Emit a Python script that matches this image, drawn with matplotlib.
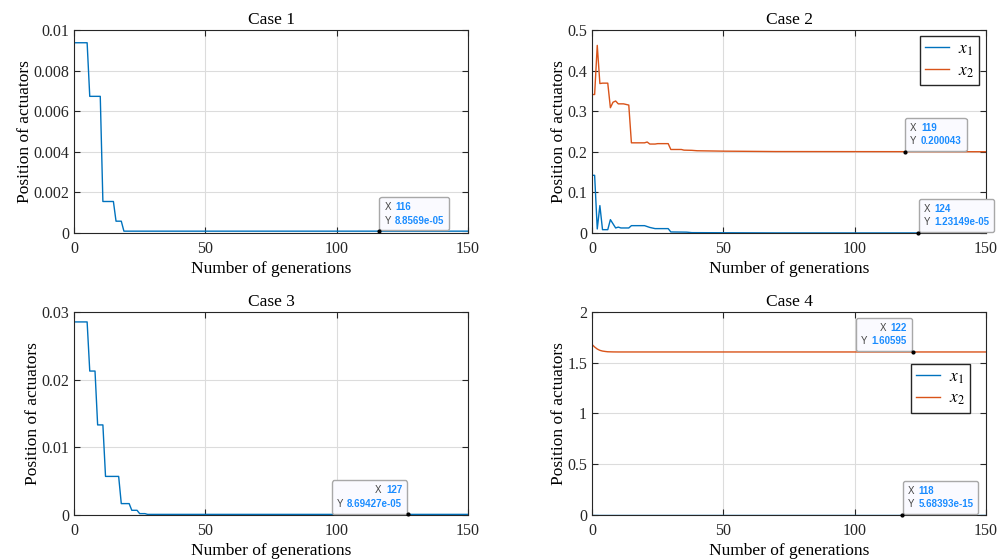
import matplotlib
matplotlib.use("Agg")
import matplotlib.pyplot as plt
from matplotlib.offsetbox import TextArea, HPacker, VPacker, AnnotationBbox

plt.rcParams['font.family'] = ['Liberation Serif', 'DejaVu Serif']
plt.rcParams['mathtext.fontset'] = 'stix'

BLUE = '#0072BD'
ORANGE = '#D95319'

# knots of the best-actuator-position history (generation, value)
case1_gen = [0, 5, 6, 10, 11, 15, 16, 18, 19, 150]
case1_x = [0.00937, 0.00937, 0.00673, 0.00673, 0.00155, 0.00155, 0.00058, 0.00058,
           8.8569e-05, 8.8569e-05]

case2_gen1 = [0, 1, 2, 3, 4, 6, 7, 9, 10, 11, 14, 15, 20, 22, 24, 29, 30, 36, 38, 50, 70, 150]
case2_x1 = [0.142, 0.142, 0.0099, 0.0674, 0.0081, 0.0081, 0.0328, 0.0123, 0.0144, 0.0123,
            0.0123, 0.018, 0.018, 0.0136, 0.0107, 0.0107, 0.0025, 0.002, 0.0008, 0.0005,
            0.0001, 1.23149e-05]
case2_gen2 = [0, 1, 2, 3, 4, 6, 7, 8, 9, 10, 12, 14, 15, 20, 21, 22, 24, 25, 29, 30, 34,
              35, 38, 40, 50, 70, 150]
case2_x2 = [0.341, 0.341, 0.462, 0.368, 0.369, 0.369, 0.3085, 0.322, 0.325, 0.318, 0.318,
            0.315, 0.222, 0.222, 0.224, 0.219, 0.219, 0.22, 0.22, 0.2056, 0.2056, 0.204,
            0.2035, 0.2025, 0.2015, 0.2005, 0.200043]

case3_gen = [0, 5, 6, 8, 9, 11, 12, 17, 18, 21, 22, 24, 25, 27, 28, 150]
case3_x = [0.02853, 0.02853, 0.02127, 0.02127, 0.01331, 0.01331, 0.0057, 0.0057,
           0.00168, 0.00168, 0.00069, 0.00069, 0.0002, 0.0002, 8.69427e-05, 8.69427e-05]

case4_gen1 = [0, 150]
case4_x1 = [5.68393e-15, 5.68393e-15]
case4_gen2 = [0, 1, 2, 3, 4, 5, 6, 8, 10, 150]
case4_x2 = [1.68, 1.655, 1.635, 1.622, 1.615, 1.611, 1.608, 1.6065, 1.606, 1.60595]

# data tips: (x, y, x text, y text, side of the box)
tips = {
    1: [(116, 8.8569e-05, '116', '8.8569e-05', 'left')],
    2: [(119, 0.200043, '119', '0.200043', 'left'),
        (124, 1.23149e-05, '124', '1.23149e-05', 'left')],
    3: [(127, 8.69427e-05, '127', '8.69427e-05', 'right')],
    4: [(122, 1.60595, '122', '1.60595', 'right'),
        (118, 5.68393e-15, '118', '5.68393e-15', 'left')],
}

fig = plt.figure(figsize=(10.08, 5.6), dpi=100)
w, h = 0.391, 0.3625
axs = {
    1: fig.add_axes([0.0734, 0.584, w, h]),
    2: fig.add_axes([0.5873, 0.584, w, h]),
    3: fig.add_axes([0.0734, 0.0804, w, h]),
    4: fig.add_axes([0.5873, 0.0804, w, h]),
}

axs[1].plot(case1_gen, case1_x, color=BLUE, lw=1.0)
axs[2].plot(case2_gen1, case2_x1, color=BLUE, lw=1.0, label='$x_1$')
axs[2].plot(case2_gen2, case2_x2, color=ORANGE, lw=1.0, label='$x_2$')
axs[3].plot(case3_gen, case3_x, color=BLUE, lw=1.0)
axs[4].plot(case4_gen1, case4_x1, color=BLUE, lw=1.0, label='$x_1$')
axs[4].plot(case4_gen2, case4_x2, color=ORANGE, lw=1.0, label='$x_2$')

ylims = {1: (0, 0.01), 2: (0, 0.5), 3: (0, 0.03), 4: (0, 2)}
yticks = {1: [0, 0.002, 0.004, 0.006, 0.008, 0.01],
          2: [0, 0.1, 0.2, 0.3, 0.4, 0.5],
          3: [0, 0.01, 0.02, 0.03],
          4: [0, 0.5, 1, 1.5, 2]}
ylabels = {1: ['0', '0.002', '0.004', '0.006', '0.008', '0.01'],
           2: ['0', '0.1', '0.2', '0.3', '0.4', '0.5'],
           3: ['0', '0.01', '0.02', '0.03'],
           4: ['0', '0.5', '1', '1.5', '2']}

tip_font = dict(size=7, family='Liberation Sans')

for k, ax in axs.items():
    ax.set_xlim(0, 150)
    ax.set_ylim(*ylims[k])
    ax.set_xticks([0, 50, 100, 150])
    ax.set_yticks(yticks[k])
    ax.set_yticklabels(ylabels[k])
    ax.grid(True, color='#DCDCDC', lw=0.8)
    ax.set_axisbelow(True)
    ax.tick_params(direction='in', top=True, right=True, length=4, width=0.8,
                   labelsize=11.5, colors='#262626')
    ax.tick_params(axis='x', pad=6)
    for s in ax.spines.values():
        s.set_color('#262626')
        s.set_linewidth(0.8)
    ax.set_title('Case %d' % k, fontsize=12.5, pad=4)
    ax.set_xlabel('Number of generations', fontsize=12.5, labelpad=3)
    ax.set_ylabel('Position of actuators', fontsize=12.5, labelpad=0)

    for (tx, ty, sx, sy, side) in tips[k]:
        ax.plot(tx, ty, 'o', ms=2, color='black', zorder=6, clip_on=False)
        row1 = HPacker(children=[TextArea('X', textprops=dict(color='#444444', **tip_font)),
                                 TextArea(sx, textprops=dict(color='#1A8CFF', weight='bold', **tip_font))],
                       align='baseline', pad=0, sep=3)
        row2 = HPacker(children=[TextArea('Y', textprops=dict(color='#444444', **tip_font)),
                                 TextArea(sy, textprops=dict(color='#1A8CFF', weight='bold', **tip_font))],
                       align='baseline', pad=0, sep=3)
        box = VPacker(children=[row1, row2], align=side, pad=0, sep=2.5)
        dx = 4.0 if side == 'left' else -4.0
        ab = AnnotationBbox(box, (tx, ty), xycoords='data',
                            xybox=(dx, 4.0), boxcoords='offset points',
                            box_alignment=(0, 0) if side == 'left' else (1, 0),
                            frameon=True, zorder=5,
                            bboxprops=dict(boxstyle='round,pad=0.35,rounding_size=0.15',
                                           facecolor='#FAFAFF', edgecolor='#A8A8A8', lw=1.0))
        ax.add_artist(ab)

leg_kw = dict(fontsize=12.5, frameon=True, fancybox=False, edgecolor='#262626',
              handlelength=1.4, borderpad=0.3, labelspacing=0.3, handletextpad=0.5,
              borderaxespad=0)
l2 = axs[2].legend(loc='upper right', bbox_to_anchor=(0.982, 0.97), **leg_kw)
l4 = axs[4].legend(loc='upper right', bbox_to_anchor=(0.959, 0.744), **leg_kw)
for leg in (l2, l4):
    leg.get_frame().set_linewidth(1.0)
    leg.get_frame().set_alpha(1)

fig.savefig('out.png', dpi=100)
